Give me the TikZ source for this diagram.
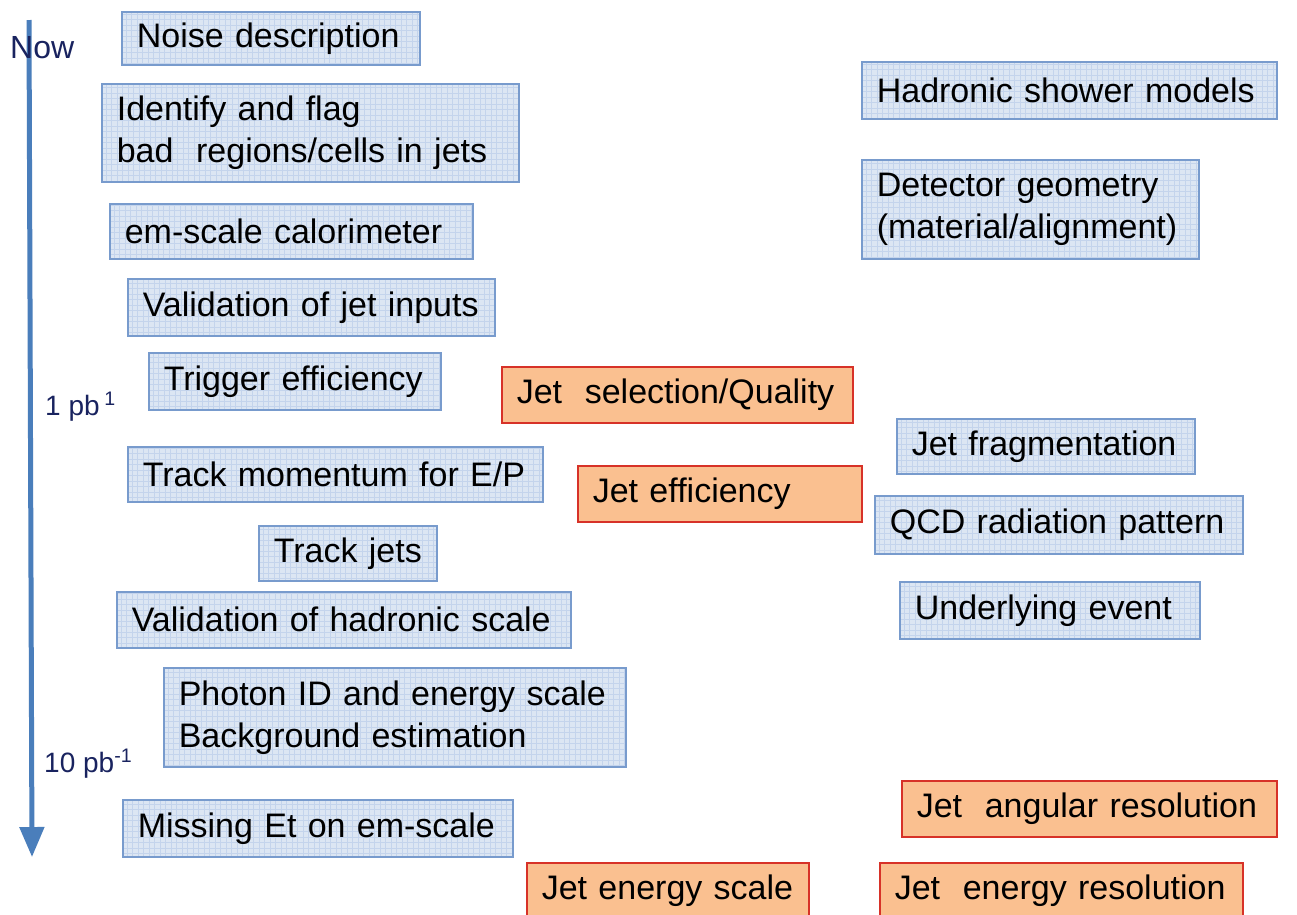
\documentclass[tikz,border=0pt]{standalone}
\usepackage{fontspec}
\setmainfont{Liberation Sans}
\usetikzlibrary{arrows.meta}
\definecolor{bfill}{RGB}{220,230,243}
\definecolor{bgrid}{RGB}{196,212,236}
\definecolor{bline}{RGB}{120,155,205}
\definecolor{ofill}{RGB}{250,192,144}
\definecolor{oline}{RGB}{215,50,40}
\definecolor{arrowc}{RGB}{74,126,187}
\definecolor{labc}{RGB}{25,35,95}
\newlength\bxsep
\setlength\bxsep{15pt}
\newcommand\mybox[7]{%
  \pgfmathsetmacro\bw{#5-#3}%
  \pgfmathsetmacro\bh{#6-#4}%
  \pgfmathsetmacro\tw{#5-#3-2*\bxsep}%
  \node[#2, anchor=north west, minimum width=\bw pt, minimum height=\bh pt, text width=\tw pt] (#1) at (#3,#4) {#7};}
\begin{document}
\begin{tikzpicture}[x=1pt,y=-1pt,
  boxbase/.style={rectangle, inner xsep=\bxsep, inner ysep=0pt, align=left, font=\fontsize{34}{42}\selectfont, line width=1.6pt},
  bluebox/.style={boxbase, draw=bline, fill=bfill,
    path picture={\draw[bgrid, line width=0.4pt, step=5.5pt] (path picture bounding box.south west) grid (path picture bounding box.north east);}},
  orangebox/.style={boxbase, draw=oline, fill=ofill},
  lab/.style={anchor=base west, inner sep=0pt, text=labc}]
\useasboundingbox (0,0) rectangle (1297,914);
\clip (0,0) rectangle (1297,914);
\fill[white] (0,0) rectangle (1297,914);
% timeline
\coordinate (ttop) at (29,20);
\coordinate (tbot) at (32,857);
\draw[arrowc, line width=5pt, -{Triangle[length=30pt,width=24pt]}] (ttop) -- (tbot);
\node[lab, font=\fontsize{32}{38}\selectfont] (now) at (10,58) {Now};
\node[lab, font=\fontsize{28}{34}\selectfont] (pb1) at (45,415) {1 pb\,\textsuperscript{1}};
\node[lab, font=\fontsize{28}{34}\selectfont] (pb10) at (44,772) {10 pb\textsuperscript{-1}};
% left column
\mybox{n1}{bluebox}{121}{11}{419}{64}{Noise description}
\mybox{n2}{bluebox}{101}{83}{518}{181}{Identify and flag\\bad~~regions/cells in jets}
\mybox{n3}{bluebox}{109}{203}{472}{258}{em-scale calorimeter}
\mybox{n4}{bluebox}{127}{278}{494}{335}{Validation of jet inputs}
\mybox{n5}{bluebox}{148}{352}{440}{409}{Trigger efficiency}
\mybox{n6}{bluebox}{127}{446}{542}{501}{Track momentum for E/P}
\mybox{n7}{bluebox}{258}{525}{436}{580}{Track jets}
\mybox{n8}{bluebox}{116}{591}{570}{647}{Validation of hadronic scale}
\mybox{n9}{bluebox}{163}{667}{625}{766}{Photon ID and energy scale\\Background estimation}
\mybox{n10}{bluebox}{122}{799}{512}{856}{Missing Et on em-scale}
% middle
\mybox{o1}{orangebox}{501}{366}{852}{422}{Jet~~selection/Quality}
\mybox{o2}{orangebox}{577}{465}{861}{521}{Jet efficiency}
\mybox{o3}{orangebox}{526}{862}{808}{918}{Jet energy scale}
% right column
\mybox{r1}{bluebox}{861}{61}{1276}{118}{Hadronic shower models}
\mybox{r2}{bluebox}{861}{159}{1198}{258}{Detector geometry\\(material/alignment)}
\mybox{r3}{bluebox}{896}{418}{1194}{473}{Jet fragmentation}
\mybox{r4}{bluebox}{874}{495}{1242}{553}{QCD radiation pattern}
\mybox{r5}{bluebox}{899}{581}{1199}{638}{Underlying event}
\mybox{o4}{orangebox}{901}{780}{1276}{836}{Jet~~angular resolution}
\mybox{o5}{orangebox}{879}{862}{1242}{918}{Jet~~energy resolution}
\end{tikzpicture}
\end{document}
